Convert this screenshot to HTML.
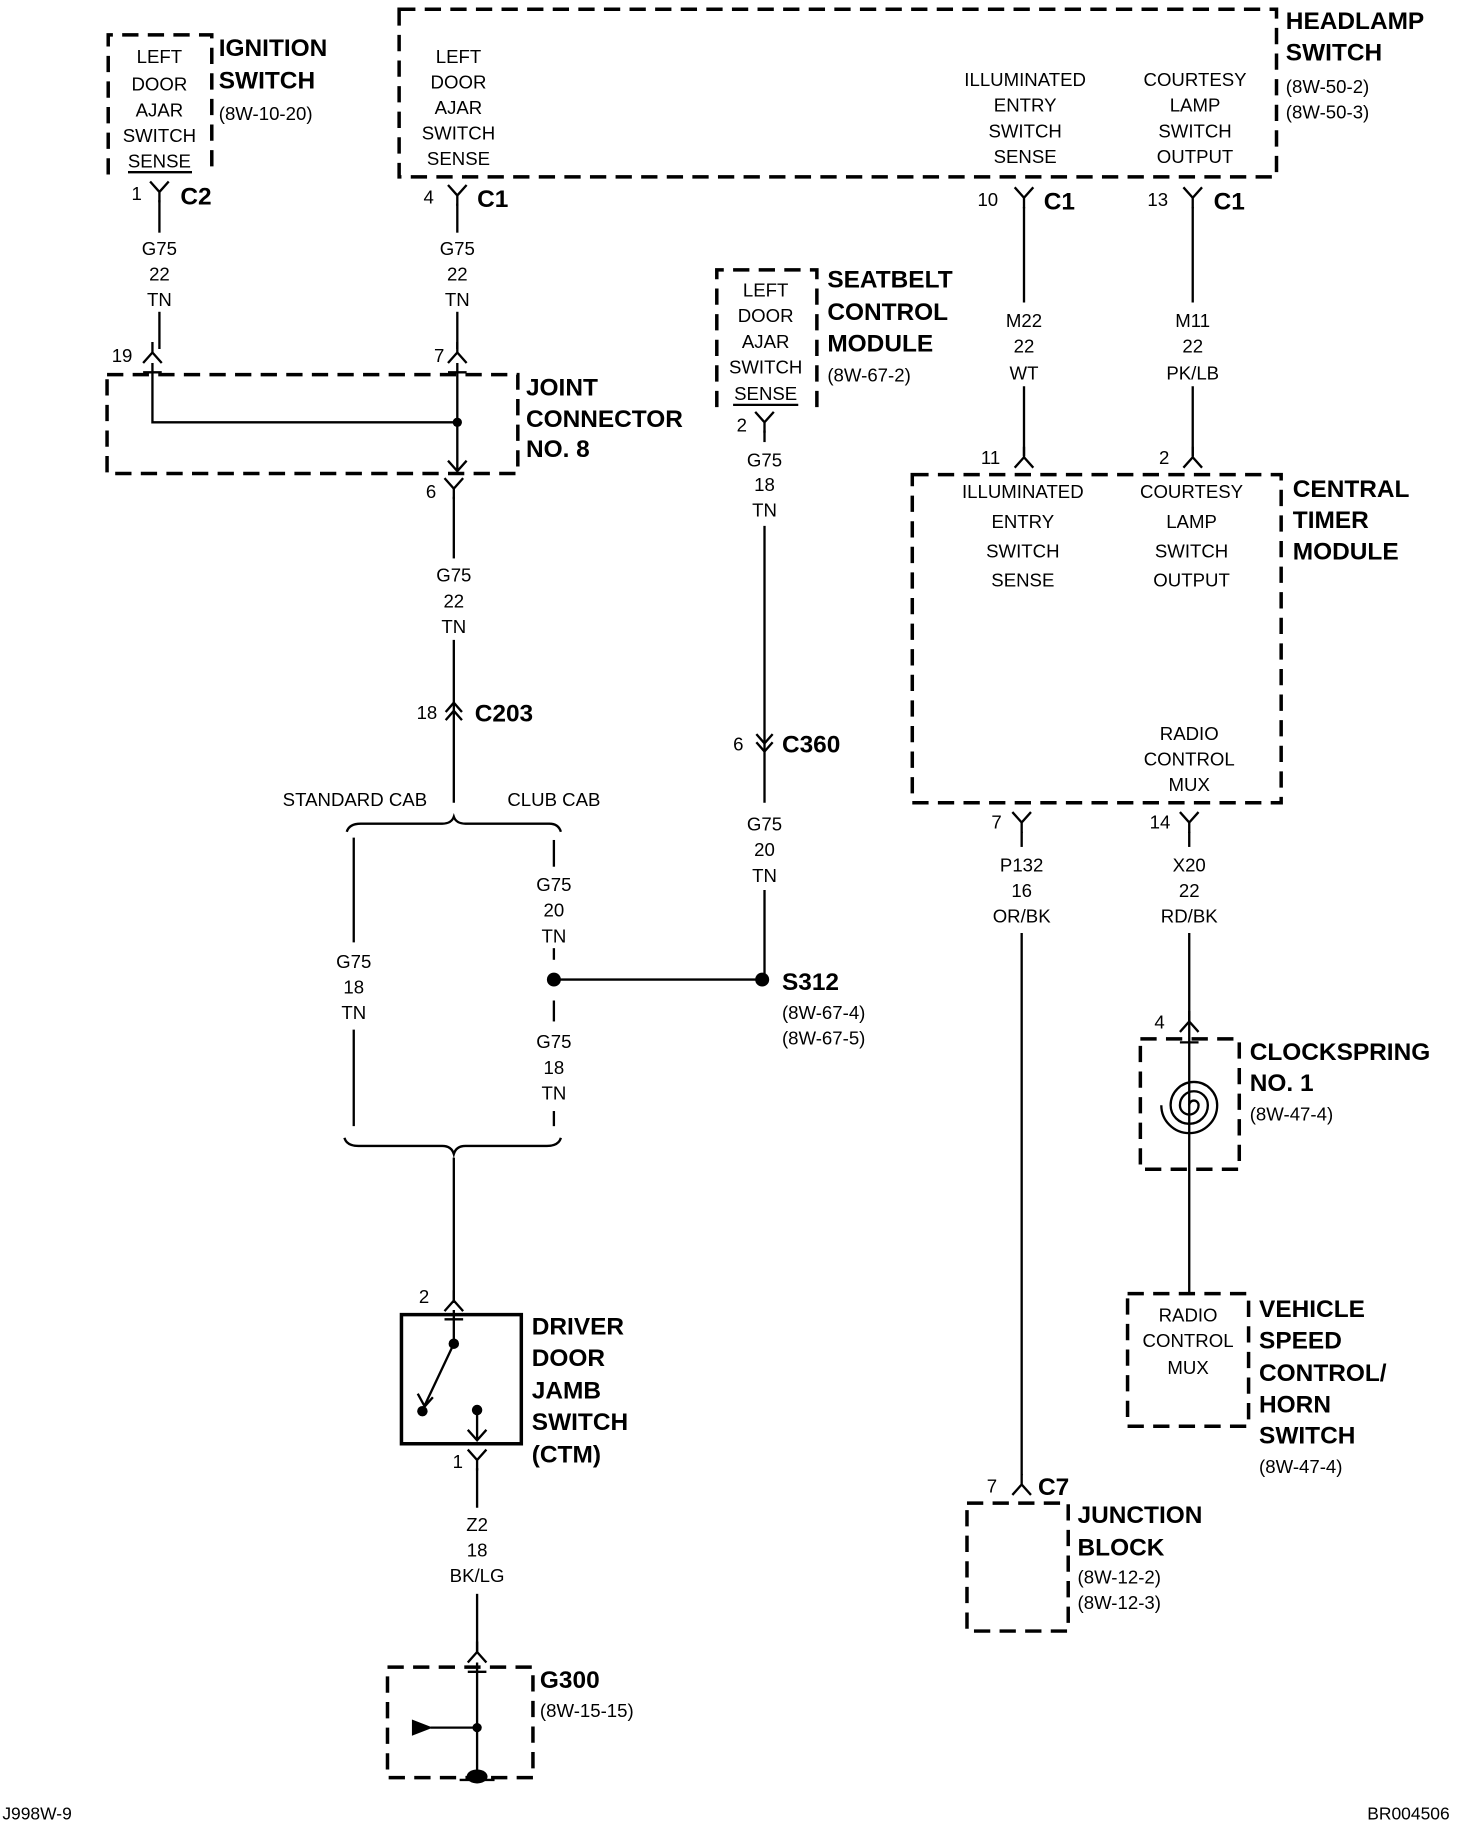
<!DOCTYPE html>
<html><head><meta charset="utf-8"><style>
html,body{margin:0;padding:0;background:#fff;}
svg{display:block;}
text{font-family:"Liberation Sans",sans-serif;fill:#000;}
.s{font-size:16px;text-anchor:middle;}
.l{font-size:16px;}
.b{font-size:21px;font-weight:bold;}
.d{fill:none;stroke:#000;stroke-width:3;stroke-dasharray:14 8;}
.w{fill:none;stroke:#000;stroke-width:2;}
</style></head><body>
<svg width="1472" height="1830" viewBox="0 0 1265 1573" preserveAspectRatio="none" xmlns="http://www.w3.org/2000/svg">
<defs>
<g id="Y"><path d="M-8 -9 L0 0 L8 -9 M0 0 L0 9" class="w"/></g>
<g id="A"><path d="M-8 9 L0 0 L8 9 M0 0 L0 -9" class="w"/></g>
</defs>
<!-- Ignition switch -->
<path d="M93 150 V30 H182 V150" class="d"/>
<g class="s"><text x="137" y="54">LEFT</text><text x="137" y="78">DOOR</text><text x="137" y="100">AJAR</text><text x="137" y="122">SWITCH</text><text x="137" y="144">SENSE</text></g>
<line x1="110" y1="148" x2="165" y2="148" class="w"/>
<text x="188" y="48" class="b">IGNITION</text><text x="188" y="76" class="b">SWITCH</text><text x="188" y="103" class="l">(8W-10-20)</text>
<use href="#Y" x="137" y="165"/><text x="113" y="172" class="l">1</text><text x="155" y="176" class="b">C2</text>
<line x1="137" y1="172" x2="137" y2="200" class="w"/>
<g class="s"><text x="137" y="219">G75</text><text x="137" y="241">22</text><text x="137" y="263">TN</text></g>
<line x1="137" y1="268" x2="137" y2="300" class="w"/>
<!-- Headlamp switch -->
<rect x="343" y="8" width="754" height="144" class="d"/>
<g class="s"><text x="394" y="54">LEFT</text><text x="394" y="76">DOOR</text><text x="394" y="98">AJAR</text><text x="394" y="120">SWITCH</text><text x="394" y="142">SENSE</text>
<text x="881" y="74">ILLUMINATED</text><text x="881" y="96">ENTRY</text><text x="881" y="118">SWITCH</text><text x="881" y="140">SENSE</text>
<text x="1027" y="74">COURTESY</text><text x="1027" y="96">LAMP</text><text x="1027" y="118">SWITCH</text><text x="1027" y="140">OUTPUT</text></g>
<text x="1105" y="25" class="b">HEADLAMP</text><text x="1105" y="52" class="b">SWITCH</text><text x="1105" y="80" class="l">(8W-50-2)</text><text x="1105" y="102" class="l">(8W-50-3)</text>
<use href="#Y" x="393" y="168"/><text x="364" y="175" class="l">4</text><text x="410" y="178" class="b">C1</text>
<line x1="393" y1="175" x2="393" y2="200" class="w"/>
<g class="s"><text x="393" y="219">G75</text><text x="393" y="241">22</text><text x="393" y="263">TN</text></g>
<line x1="393" y1="268" x2="393" y2="300" class="w"/>
<use href="#Y" x="880" y="170"/><text x="840" y="177" class="l">10</text><text x="897" y="180" class="b">C1</text>
<use href="#Y" x="1025" y="170"/><text x="986" y="177" class="l">13</text><text x="1043" y="180" class="b">C1</text>
<line x1="880" y1="178" x2="880" y2="260" class="w"/><line x1="1025" y1="178" x2="1025" y2="260" class="w"/>
<g class="s"><text x="880" y="281">M22</text><text x="880" y="303">22</text><text x="880" y="326">WT</text>
<text x="1025" y="281">M11</text><text x="1025" y="303">22</text><text x="1025" y="326">PK/LB</text></g>
<line x1="880" y1="332" x2="880" y2="392" class="w"/><line x1="1025" y1="332" x2="1025" y2="392" class="w"/>
<use href="#A" x="880" y="393"/><use href="#A" x="1025" y="393"/>
<text x="843" y="399" class="l">11</text><text x="996" y="399" class="l">2</text>
<!-- Joint connector -->
<rect x="92" y="322" width="353" height="85" class="d"/>
<use href="#A" x="131" y="303"/><use href="#A" x="393" y="303"/>
<path d="M123 320 H139 M385 320 H401" class="w"/>
<text x="96" y="311" class="l">19</text><text x="373" y="311" class="l">7</text>
<path d="M131 312 V363 H393 M393 312 V405 M385 396 L393 405 L401 396" class="w"/>
<circle cx="393" cy="363" r="4"/>
<text x="452" y="340" class="b">JOINT</text><text x="452" y="367" class="b">CONNECTOR</text><text x="452" y="393" class="b">NO. 8</text>
<use href="#Y" x="390" y="420"/><text x="366" y="428" class="l">6</text>
<line x1="390" y1="427" x2="390" y2="480" class="w"/>
<g class="s"><text x="390" y="500">G75</text><text x="390" y="522">22</text><text x="390" y="544">TN</text></g>
<line x1="390" y1="550" x2="390" y2="690" class="w"/>
<path d="M383 612 L390 604 L397 612 M383 619 L390 611 L397 619" class="w"/>
<text x="358" y="618" class="l">18</text><text x="408" y="620" class="b">C203</text>
<text x="305" y="693" class="s">STANDARD CAB</text><text x="476" y="693" class="s">CLUB CAB</text>
<path d="M298 715 Q300 708 310 708 H380 Q388 708 390 702 Q392 708 400 708 H472 Q480 708 482 715" class="w"/>
<line x1="304" y1="720" x2="304" y2="810" class="w"/>
<g class="s"><text x="304" y="832">G75</text><text x="304" y="854">18</text><text x="304" y="876">TN</text></g>
<line x1="304" y1="885" x2="304" y2="968" class="w"/>
<line x1="476" y1="722" x2="476" y2="745" class="w"/>
<g class="s"><text x="476" y="766">G75</text><text x="476" y="788">20</text><text x="476" y="810">TN</text>
<text x="476" y="901">G75</text><text x="476" y="923">18</text><text x="476" y="945">TN</text></g>
<line x1="476" y1="815" x2="476" y2="825" class="w"/><line x1="476" y1="860" x2="476" y2="878" class="w"/><line x1="476" y1="955" x2="476" y2="968" class="w"/>
<circle cx="476" cy="842" r="6"/>
<path d="M296 978 Q298 985 308 985 H380 Q388 985 390 992 Q392 985 400 985 H470 Q480 985 482 978" class="w"/>
<line x1="390" y1="995" x2="390" y2="1120" class="w"/>
<line x1="476" y1="842" x2="655" y2="842" class="w"/><circle cx="655" cy="842" r="6"/>
<text x="672" y="851" class="b">S312</text><text x="672" y="876" class="l">(8W-67-4)</text><text x="672" y="898" class="l">(8W-67-5)</text>
<!-- Seatbelt -->
<path d="M616 350 V232 H702 V350" class="d"/>
<g class="s"><text x="658" y="255">LEFT</text><text x="658" y="277">DOOR</text><text x="658" y="299">AJAR</text><text x="658" y="321">SWITCH</text><text x="658" y="344">SENSE</text></g>
<line x1="630" y1="348" x2="686" y2="348" class="w"/>
<text x="711" y="247" class="b">SEATBELT</text><text x="711" y="275" class="b">CONTROL</text><text x="711" y="302" class="b">MODULE</text><text x="711" y="328" class="l">(8W-67-2)</text>
<use href="#Y" x="657" y="363"/><text x="633" y="371" class="l">2</text>
<line x1="657" y1="370" x2="657" y2="380" class="w"/>
<g class="s"><text x="657" y="401">G75</text><text x="657" y="422">18</text><text x="657" y="444">TN</text></g>
<line x1="657" y1="452" x2="657" y2="690" class="w"/>
<path d="M650 631 L657 639 L664 631 M650 638 L657 646 L664 638" class="w"/>
<text x="630" y="645" class="l">6</text><text x="672" y="647" class="b">C360</text>
<g class="s"><text x="657" y="714">G75</text><text x="657" y="736">20</text><text x="657" y="758">TN</text></g>
<line x1="657" y1="765" x2="657" y2="842" class="w"/>
<!-- Central timer module -->
<rect x="784" y="408" width="317" height="282" class="d"/>
<g class="s"><text x="879" y="428">ILLUMINATED</text><text x="879" y="454">ENTRY</text><text x="879" y="479">SWITCH</text><text x="879" y="504">SENSE</text>
<text x="1024" y="428">COURTESY</text><text x="1024" y="454">LAMP</text><text x="1024" y="479">SWITCH</text><text x="1024" y="504">OUTPUT</text>
<text x="1022" y="636">RADIO</text><text x="1022" y="658">CONTROL</text><text x="1022" y="680">MUX</text></g>
<text x="1111" y="427" class="b">CENTRAL</text><text x="1111" y="454" class="b">TIMER</text><text x="1111" y="481" class="b">MODULE</text>
<use href="#Y" x="878" y="707"/><text x="852" y="712" class="l">7</text>
<use href="#Y" x="1022" y="707"/><text x="988" y="712" class="l">14</text>
<g class="s"><text x="878" y="749">P132</text><text x="878" y="771">16</text><text x="878" y="793">OR/BK</text>
<text x="1022" y="749">X20</text><text x="1022" y="771">22</text><text x="1022" y="793">RD/BK</text></g>
<line x1="878" y1="715" x2="878" y2="728" class="w"/><line x1="1022" y1="715" x2="1022" y2="728" class="w"/>
<line x1="878" y1="802" x2="878" y2="1268" class="w"/>
<line x1="1022" y1="802" x2="1022" y2="1112" class="w"/>
<use href="#A" x="1022" y="878"/><text x="992" y="884" class="l">4</text>
<!-- Clockspring -->
<rect x="980" y="893" width="85" height="112" class="d"/>
<path d="M1014 896 H1030" class="w"/>
<path d="M1022 950 m0 0 a4 4 0 0 1 8 0 a8 8 0 0 1 -16 0 a12 12 0 0 1 24 0 a16 16 0 0 1 -32 0 a20 20 0 0 1 40 0 a24 24 0 0 1 -48 0" class="w"/>
<text x="1074" y="911" class="b">CLOCKSPRING</text><text x="1074" y="938" class="b">NO. 1</text><text x="1074" y="963" class="l">(8W-47-4)</text>
<!-- Vehicle speed control -->
<rect x="969" y="1112" width="104" height="114" class="d"/>
<g class="s"><text x="1021" y="1136">RADIO</text><text x="1021" y="1158">CONTROL</text><text x="1021" y="1181">MUX</text></g>
<text x="1082" y="1132" class="b">VEHICLE</text><text x="1082" y="1159" class="b">SPEED</text><text x="1082" y="1187" class="b">CONTROL/</text><text x="1082" y="1214" class="b">HORN</text><text x="1082" y="1241" class="b">SWITCH</text><text x="1082" y="1266" class="l">(8W-47-4)</text>
<!-- Junction block -->
<use href="#A" x="878" y="1276"/><text x="848" y="1283" class="l">7</text><text x="892" y="1285" class="b">C7</text>
<rect x="831" y="1292" width="87" height="110" class="d"/>
<text x="926" y="1309" class="b">JUNCTION</text><text x="926" y="1337" class="b">BLOCK</text><text x="926" y="1361" class="l">(8W-12-2)</text><text x="926" y="1383" class="l">(8W-12-3)</text>
<!-- Driver door jamb switch -->
<use href="#A" x="390" y="1118"/><text x="360" y="1120" class="l">2</text>
<rect x="345" y="1130" width="103" height="111" fill="none" stroke="#000" stroke-width="3"/>
<path d="M382 1134 H398 M390 1126 V1155 L365 1208 M359 1198 L365 1209 L372 1201" class="w"/>
<circle cx="390" cy="1155" r="4.5"/><circle cx="363" cy="1213" r="4.5"/><circle cx="410" cy="1212" r="4.5"/>
<path d="M410 1212 V1238 M402 1229 L410 1238 L418 1229" class="w"/>
<text x="457" y="1147" class="b">DRIVER</text><text x="457" y="1174" class="b">DOOR</text><text x="457" y="1202" class="b">JAMB</text><text x="457" y="1229" class="b">SWITCH</text><text x="457" y="1257" class="b">(CTM)</text>
<use href="#Y" x="410" y="1255"/><text x="389" y="1262" class="l">1</text>
<line x1="410" y1="1262" x2="410" y2="1296" class="w"/>
<g class="s"><text x="410" y="1316">Z2</text><text x="410" y="1338">18</text><text x="410" y="1360">BK/LG</text></g>
<line x1="410" y1="1370" x2="410" y2="1420" class="w"/>
<use href="#A" x="410" y="1420"/>
<!-- G300 -->
<rect x="333" y="1433" width="125" height="95" class="d"/>
<path d="M402 1437 H418 M410 1429 V1525 M370 1485 H410" class="w"/>
<path d="M354 1478 L372 1485 L354 1492 Z"/>
<circle cx="410" cy="1485" r="4"/>
<ellipse cx="410" cy="1527" rx="9" ry="6"/>
<line x1="395" y1="1530" x2="425" y2="1530" class="w"/>
<text x="464" y="1451" class="b">G300</text><text x="464" y="1476" class="l">(8W-15-15)</text>
<text x="2" y="1564" class="l" style="font-size:15px">J998W-9</text>
<text x="1175" y="1564" class="l" style="font-size:15px">BR004506</text>
</svg>
</body></html>
